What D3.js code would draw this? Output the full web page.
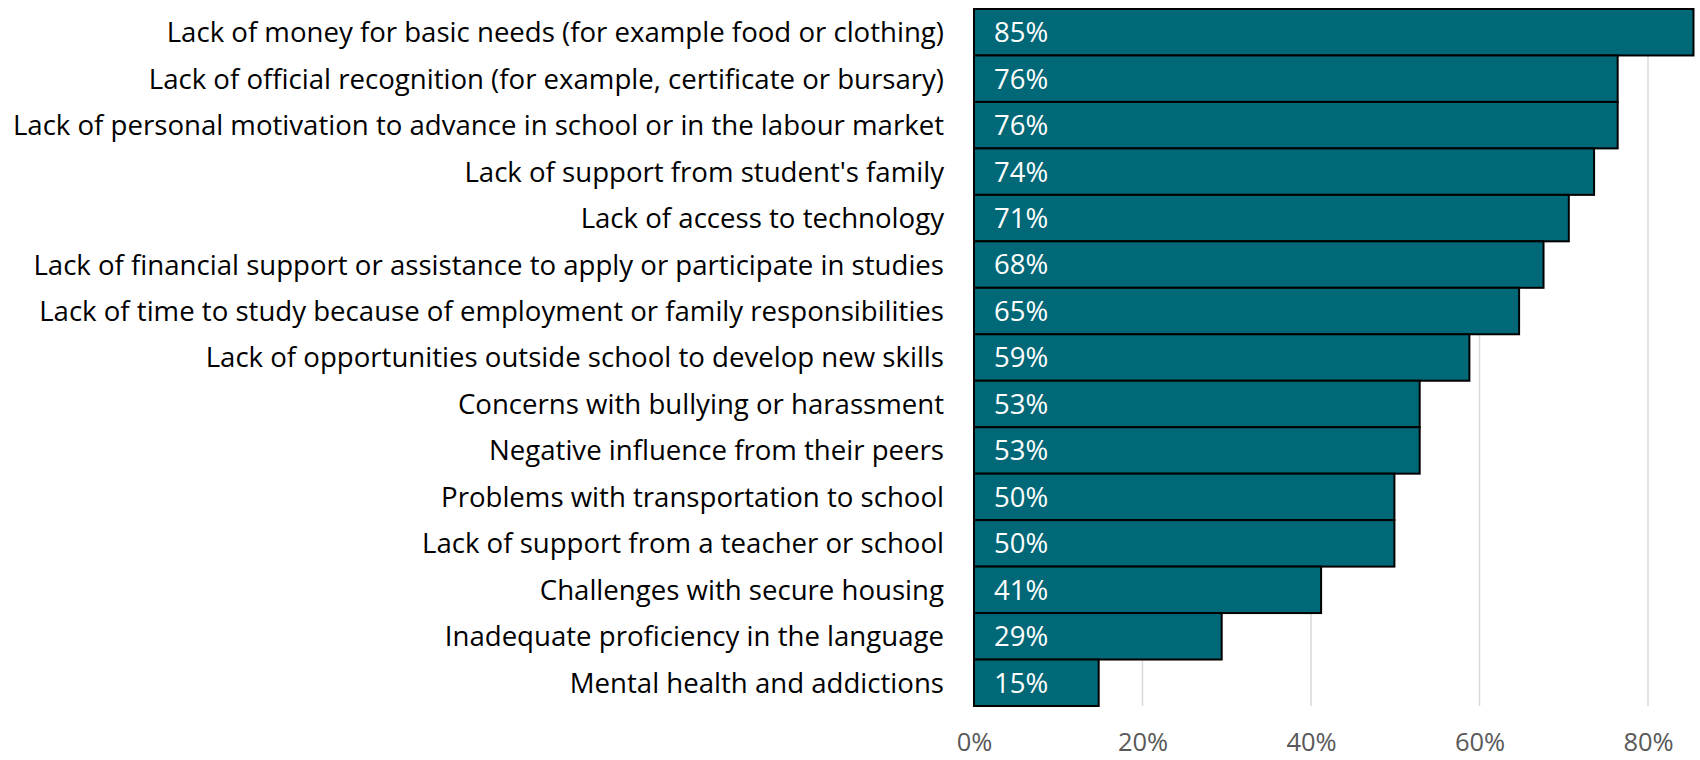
<!DOCTYPE html>
<html>
<head>
<meta charset="utf-8">
<script src="https://cdn.jsdelivr.net/npm/d3@7"></script>
<style>
  body { margin: 0; background: #fff; }
  svg { display: block; font-family: 'Open Sans', sans-serif; }
</style>
</head>
<body>
<div id="chart"></div>
<script>
var categories = [
  'Lack of money for basic needs (for example food or clothing)',
  'Lack of official recognition (for example, certificate or bursary)',
  'Lack of personal motivation to advance in school or in the labour market',
  "Lack of support from student's family",
  'Lack of access to technology',
  'Lack of financial support or assistance to apply or participate in studies',
  'Lack of time to study because of employment or family responsibilities',
  'Lack of opportunities outside school to develop new skills',
  'Concerns with bullying or harassment',
  'Negative influence from their peers',
  'Problems with transportation to school',
  'Lack of support from a teacher or school',
  'Challenges with secure housing',
  'Inadequate proficiency in the language',
  'Mental health and addictions'
];
var values = [0.854, 0.764, 0.764, 0.736, 0.706, 0.676, 0.647, 0.588, 0.529, 0.529, 0.499, 0.499, 0.412, 0.294, 0.148];
var ticks = [0, 0.2, 0.4, 0.6, 0.8];

var width = 1700, height = 760;
var margins = {left: 974, right: 52, top: 9, bottom: 54};

var data = categories.map(function(c, i) { return {name: c, v: values[i]}; });

var svg = d3.select('#chart')
  .append('svg')
  .attr('width', width)
  .attr('height', height);

var x = d3.scaleLinear()
  .domain([0, 0.8])
  .range([margins.left, width - margins.right]);

var y = d3.scaleBand()
  .domain(categories)
  .range([margins.top, height - margins.bottom])
  .padding(0);

// gridlines
svg.append('g')
  .selectAll('line')
  .data(ticks)
  .enter()
  .append('line')
  .attr('x1', function(d) { return x(d); })
  .attr('x2', function(d) { return x(d); })
  .attr('y1', margins.top)
  .attr('y2', height - margins.bottom)
  .attr('stroke', '#d9d9d9')
  .attr('stroke-width', 1.5);

// bars
svg.append('g')
  .selectAll('rect')
  .data(data)
  .enter()
  .append('rect')
  .attr('x', x(0))
  .attr('y', function(d) { return y(d.name); })
  .attr('width', function(d) { return x(d.v) - x(0); })
  .attr('height', y.bandwidth())
  .attr('fill', '#016878')
  .attr('stroke', '#000')
  .attr('stroke-width', 2);

// value labels
svg.append('g')
  .selectAll('text')
  .data(data)
  .enter()
  .append('text')
  .attr('x', x(0) + 20)
  .attr('y', function(d) { return y(d.name) + y.bandwidth() / 2; })
  .attr('dy', '0.36em')
  .attr('fill', '#fff')
  .style('font-size', '27.5px')
  .text(function(d) { return Math.round(d.v * 100) + '%'; });

// category axis
var yAxis = d3.axisLeft(y).tickSize(0).tickPadding(30);
var yg = svg.append('g')
  .attr('transform', 'translate(' + x(0) + ',0)')
  .call(yAxis);
yg.select('.domain').remove();
yg.selectAll('text')
  .attr('fill', '#000')
  .attr('dy', '0.36em')
  .style('font-size', '27.6px')
  .style('font-family', "'Open Sans', sans-serif");

// value axis
var xAxis = d3.axisBottom(x)
  .tickValues(ticks)
  .tickSize(0)
  .tickPadding(27)
  .tickFormat(d3.format('.0%'));
var xg = svg.append('g')
  .attr('transform', 'translate(0,' + (height - margins.bottom) + ')')
  .call(xAxis);
xg.select('.domain').remove();
xg.selectAll('text')
  .attr('fill', '#595959')
  .style('font-size', '25.5px')
  .style('font-family', "'Open Sans', sans-serif");
</script>
</body>
</html>
